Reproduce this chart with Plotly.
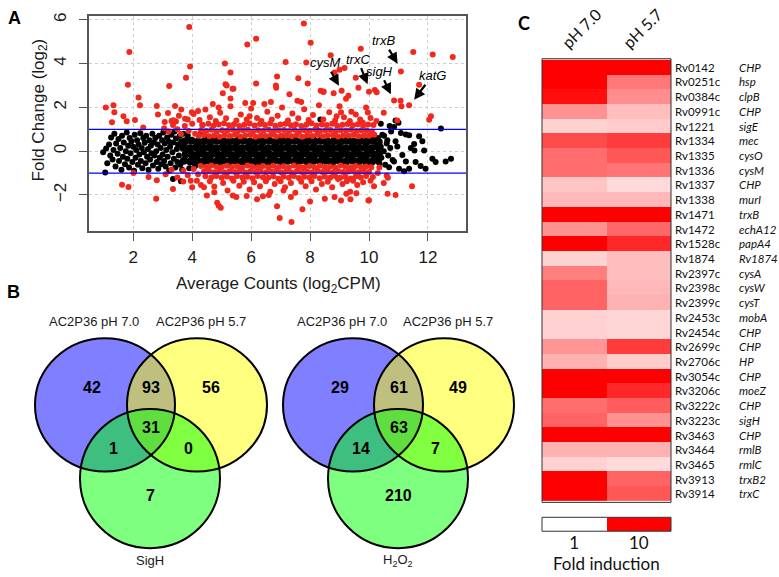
import numpy as np
import plotly.graph_objects as go

W, H = 779, 577


def px(x):
    return x / W


def py(y):
    return 1 - y / H


# ---- A: MA plot (average log2CPM, log2 fold change)
black_left = [
    (0.98, -0.05), (1.05, -0.98), (1.08, 0.12), (1.12, -0.55), (1.18, 0.30), (1.22, -0.20),
    (1.25, 0.62), (1.30, -0.38), (1.33, 0.05), (1.36, 0.80), (1.40, -0.70), (1.42, 0.35),
    (1.47, -0.12), (1.50, 0.55), (1.52, -0.45), (1.56, 0.15), (1.60, -0.85), (1.62, 0.70),
    (1.65, -0.25), (1.68, 0.40), (1.72, -0.60), (1.75, 0.00), (1.78, 0.85), (1.80, -0.35),
    (1.83, 0.25), (1.86, -0.75), (1.88, 0.60), (1.91, -0.10), (1.94, 0.45), (1.97, -0.50),
    (2.00, 0.20), (2.03, -0.90), (2.05, 0.75), (2.08, -0.30), (2.10, 0.05), (2.13, 0.50),
    (2.16, -0.62), (2.18, 0.30), (2.21, -0.15), (2.24, 0.82), (2.26, -0.45), (2.29, 0.15),
    (2.31, -0.78), (2.34, 0.60), (2.36, -0.05), (2.39, 0.38), (2.42, -0.55), (2.44, 0.70),
    (2.47, -0.25), (2.50, 0.10), (2.52, -0.85), (2.55, 0.50), (2.57, -0.38), (2.60, 0.25),
    (2.62, -0.10), (2.65, 0.80), (2.67, -0.65), (2.70, 0.40), (2.72, -0.20), (2.75, 0.60),
    (2.78, 0.00), (2.80, -0.50), (2.83, 0.30), (2.85, -0.80), (2.88, 0.70), (2.90, -0.30),
    (2.93, 0.15), (2.95, -0.60), (2.98, 0.50), (3.00, -0.15), (3.02, 0.85), (3.05, -0.45),
    (3.07, 0.35), (3.10, -0.70), (3.12, 0.05), (3.15, 0.62), (3.17, -0.25), (3.20, 0.45),
    (3.22, -0.90), (3.25, 0.20), (3.27, -0.55), (3.30, 0.75), (3.33, -0.05), (3.35, 0.40),
    (3.38, -0.35), (3.40, 0.90), (3.43, -0.75), (3.45, 0.58), (3.48, 0.10), (3.50, -0.50),
    (3.52, 0.30), (3.55, -0.20), (3.58, 0.70), (3.60, -0.62), (3.63, 0.45), (3.66, -0.85),
    (3.70, 0.80), (3.35, -1.27), (3.62, -1.38), (4.35, 1.20), (8.35, 1.45), (8.25, 0.95),
]

black_core = [
    (3.72, -0.44), (3.78, -0.14), (3.70, 0.16), (3.76, 0.45),
    (3.94, -0.47), (4.00, -0.16), (3.92, 0.13), (3.98, 0.47),
    (4.16, -0.43), (4.22, -0.13), (4.14, 0.17), (4.20, 0.43),
    (4.38, -0.46), (4.44, -0.17), (4.36, 0.14), (4.42, 0.46),
    (4.60, -0.44), (4.66, -0.14), (4.58, 0.16), (4.64, 0.44),
    (4.82, -0.47), (4.88, -0.16), (4.80, 0.13), (4.86, 0.47),
    (5.04, -0.43), (5.10, -0.13), (5.02, 0.17), (5.08, 0.43),
    (5.26, -0.46), (5.32, -0.17), (5.24, 0.14), (5.30, 0.46),
    (5.48, -0.44), (5.54, -0.14), (5.46, 0.16), (5.52, 0.44),
    (5.70, -0.47), (5.76, -0.16), (5.68, 0.13), (5.74, 0.47),
    (5.92, -0.43), (5.98, -0.13), (5.90, 0.17), (5.96, 0.43),
    (6.14, -0.46), (6.20, -0.17), (6.12, 0.14), (6.18, 0.46),
    (6.36, -0.44), (6.42, -0.14), (6.34, 0.16), (6.40, 0.44),
    (6.58, -0.47), (6.64, -0.16), (6.56, 0.13), (6.62, 0.47),
    (6.80, -0.43), (6.86, -0.13), (6.78, 0.17), (6.84, 0.43),
    (7.02, -0.46), (7.08, -0.17), (7.00, 0.14), (7.06, 0.46),
    (7.24, -0.44), (7.30, -0.14), (7.22, 0.16), (7.28, 0.44),
    (7.46, -0.47), (7.52, -0.16), (7.44, 0.13), (7.50, 0.47),
    (7.68, -0.43), (7.74, -0.13), (7.66, 0.17), (7.72, 0.43),
    (7.90, -0.46), (7.96, -0.17), (7.88, 0.14), (7.94, 0.46),
    (8.12, -0.44), (8.18, -0.14), (8.10, 0.16), (8.16, 0.44),
    (8.34, -0.47), (8.40, -0.16), (8.32, 0.13), (8.38, 0.47),
    (8.56, -0.43), (8.62, -0.13), (8.54, 0.17), (8.60, 0.43),
    (8.78, -0.46), (8.84, -0.17), (8.76, 0.14), (8.82, 0.46),
    (9.00, -0.44), (9.06, -0.14), (8.98, 0.16), (9.04, 0.44),
    (9.22, -0.47), (9.28, -0.16), (9.20, 0.13), (9.26, 0.47),
    (9.44, -0.43), (9.50, -0.13), (9.42, 0.17), (9.48, 0.43),
    (9.66, -0.46), (9.72, -0.17), (9.64, 0.14), (9.70, 0.46),
    (9.88, -0.44), (9.94, -0.14), (9.86, 0.16), (9.92, 0.44),
    (10.10, -0.47), (10.16, -0.16), (10.08, 0.13), (10.14, 0.47),
    (10.30, -0.40), (10.34, -0.10), (10.28, 0.20), (10.33, 0.42),
]

black_right = [
    (3.85, 0.72), (4.10, -0.68), (4.50, 0.62), (4.95, -0.62), (5.60, 0.60), (6.20, -0.60),
    (6.90, 0.62), (7.50, -0.62), (8.10, 0.60), (8.70, -0.60), (9.30, 0.62), (9.90, -0.60),
    (3.90, -0.78), (4.30, 0.80),
    (10.30, 0.60), (10.35, -0.55), (10.40, 0.20), (10.42, -0.30), (10.45, 0.75), (10.50, 0.00),
    (10.51, 0.70), (10.55, -0.62), (10.60, 0.35), (10.62, 0.50), (10.65, -0.20), (10.68, -0.74),
    (10.72, 0.15), (10.75, 0.90), (10.80, -0.40), (10.85, 1.10), (10.85, -0.47), (10.90, 0.45),
    (10.96, 0.21), (11.02, -0.80), (11.08, 0.83), (11.13, -0.17), (11.19, -0.92), (11.25, 0.76),
    (11.25, -0.47), (11.36, 0.73), (11.36, -0.80), (11.42, 0.15), (11.53, 0.33), (11.54, 0.03),
    (11.58, -0.50), (11.70, 0.68), (11.75, -0.68), (11.81, 0.45), (11.87, 0.03), (11.92, -0.80),
    (12.15, -0.35), (12.26, -0.50), (12.44, 1.03), (12.60, -0.47), (12.78, -0.35), (10.90, 1.40),
    (10.70, 1.15), (11.00, 1.30), (10.40, 1.25),
]

red_fringe_up = [
    (4.22, 0.70), (4.40, 0.74), (4.58, 0.68), (4.75, 0.72), (4.93, 0.66), (5.10, 0.73), (5.28, 0.69),
    (5.45, 0.75), (5.63, 0.67), (5.80, 0.71), (5.98, 0.74), (6.15, 0.66), (6.33, 0.72), (6.50, 0.69),
    (6.68, 0.75), (6.85, 0.67), (7.03, 0.71), (7.20, 0.73), (7.38, 0.68), (7.55, 0.74), (7.73, 0.66),
    (7.90, 0.72), (8.08, 0.69), (8.25, 0.75), (8.43, 0.68), (8.60, 0.71), (8.78, 0.73), (8.95, 0.67),
    (9.13, 0.72), (9.30, 0.70), (9.48, 0.74), (9.65, 0.68), (9.83, 0.72), (10.00, 0.70), (10.18, 0.75),
    (4.30, 0.95), (4.48, 0.92), (4.66, 0.98), (4.84, 0.90), (5.02, 0.96), (5.19, 0.93), (5.37, 0.99),
    (5.54, 0.91), (5.72, 0.95), (5.89, 0.98), (6.07, 0.90), (6.24, 0.96), (6.42, 0.93), (6.59, 0.99),
    (6.77, 0.91), (6.94, 0.95), (7.12, 0.97), (7.29, 0.92), (7.47, 0.98), (7.64, 0.90), (7.82, 0.96),
    (7.99, 0.93), (8.17, 0.99), (8.34, 0.92), (8.52, 0.95), (8.69, 0.97), (8.87, 0.91), (9.04, 0.96),
    (9.22, 0.94), (9.39, 0.98), (9.57, 0.92), (9.74, 0.96), (9.92, 0.94), (10.10, 0.90),
    (4.35, 1.20), (4.55, 1.25), (4.72, 1.16), (4.90, 1.22), (5.08, 1.27), (5.25, 1.18), (5.42, 1.23),
    (5.60, 1.15), (5.77, 1.21), (5.95, 1.26), (6.12, 1.17), (6.30, 1.24), (6.47, 1.19), (6.65, 1.28),
    (6.82, 1.16), (7.00, 1.22), (7.17, 1.25), (7.35, 1.18), (7.52, 1.23), (7.70, 1.15), (7.87, 1.21),
    (8.05, 1.27), (8.22, 1.17), (8.40, 1.22), (8.57, 1.19), (8.75, 1.25), (8.92, 1.16), (9.10, 1.21),
    (9.27, 1.24), (9.45, 1.18), (9.62, 1.23), (9.80, 1.17), (9.97, 1.22), (10.15, 1.20),
    (3.05, 1.05), (3.20, 0.90), (3.35, 1.20), (3.50, 1.00), (3.62, 0.78), (3.75, 1.15), (3.88, 0.92),
    (4.00, 1.25), (4.10, 0.80), (3.45, 1.35),
]

red_fringe_dn = [
    (4.30, -0.68), (4.48, -0.72), (4.65, -0.66), (4.83, -0.71), (5.00, -0.74), (5.18, -0.67),
    (5.35, -0.72), (5.53, -0.69), (5.70, -0.75), (5.88, -0.66), (6.05, -0.71), (6.23, -0.73),
    (6.40, -0.68), (6.58, -0.74), (6.75, -0.67), (6.93, -0.72), (7.10, -0.69), (7.28, -0.75),
    (7.45, -0.66), (7.63, -0.71), (7.80, -0.73), (7.98, -0.68), (8.15, -0.74), (8.33, -0.67),
    (8.50, -0.72), (8.68, -0.70), (8.85, -0.75), (9.03, -0.66), (9.20, -0.71), (9.38, -0.73),
    (9.55, -0.68), (9.73, -0.72), (9.90, -0.70), (10.08, -0.74),
    (4.40, -0.93), (4.57, -0.90), (4.75, -0.96), (4.92, -0.91), (5.10, -0.97), (5.27, -0.92),
    (5.45, -0.95), (5.62, -0.90), (5.80, -0.98), (5.97, -0.92), (6.15, -0.95), (6.32, -0.91),
    (6.50, -0.97), (6.67, -0.93), (6.85, -0.90), (7.02, -0.96), (7.20, -0.92), (7.37, -0.98),
    (7.55, -0.91), (7.72, -0.95), (7.90, -0.93), (8.07, -0.97), (8.25, -0.90), (8.42, -0.95),
    (8.60, -0.92), (8.77, -0.97), (8.95, -0.91), (9.12, -0.95), (9.30, -0.93), (9.47, -0.90),
    (9.65, -0.96), (9.82, -0.92), (10.00, -0.95),
    (4.45, -1.15), (4.65, -1.20), (4.82, -1.13), (5.00, -1.22), (5.18, -1.16), (5.35, -1.25),
    (5.52, -1.14), (5.70, -1.20), (5.88, -1.17), (6.05, -1.24), (6.22, -1.13), (6.40, -1.19),
    (6.58, -1.22), (6.75, -1.15), (6.92, -1.26), (7.10, -1.16), (7.28, -1.21), (7.45, -1.14),
    (7.62, -1.23), (7.80, -1.17), (7.98, -1.20), (8.15, -1.13), (8.33, -1.24), (8.50, -1.16),
    (8.68, -1.21), (8.85, -1.14), (9.02, -1.22), (9.20, -1.17), (9.38, -1.25), (9.55, -1.15),
    (9.72, -1.20), (9.90, -1.14),
]

red_scatter = [
    (3.30, 1.38), (3.55, 1.62), (3.85, 1.45), (4.05, 1.70), (4.25, 1.42), (4.45, 1.90), (4.60, 1.55),
    (4.80, 1.38), (4.95, 1.75), (5.15, 1.50), (5.30, 2.05), (5.50, 1.40), (5.65, 1.68), (5.85, 1.45),
    (6.00, 1.95), (6.20, 1.52), (6.35, 1.38), (6.55, 1.80), (6.70, 1.45), (6.90, 1.62), (7.05, 2.00),
    (7.25, 1.40), (7.40, 1.72), (7.60, 1.50), (7.80, 1.92), (7.95, 1.42), (8.10, 1.65), (8.30, 2.10),
    (8.45, 1.45), (8.65, 1.78), (8.85, 1.40), (9.00, 2.05), (9.15, 1.55), (9.35, 1.38), (9.55, 1.68),
    (9.70, 1.45), (9.90, 2.00), (10.05, 1.52), (10.25, 1.38), (5.80, 2.20), (6.45, 2.15), (7.70, 2.25),
    (4.70, 2.15), (8.90, 1.60), (5.95, 1.60),
    (3.10, -1.05), (3.30, -0.85), (3.50, -1.20), (3.70, -0.90), (3.85, -1.10), (4.05, -0.82),
    (4.20, -1.05), (3.95, -1.35), (4.30, -1.55), (4.60, -1.38), (4.75, -1.62), (5.05, -1.45),
    (5.20, -1.80), (5.40, -1.35), (5.60, -1.58), (5.75, -1.40), (5.95, -1.75), (6.10, -1.42),
    (6.30, -1.60), (6.50, -1.38), (6.65, -1.85), (6.80, -1.50), (7.00, -1.38), (7.15, -1.65),
    (7.35, -1.45), (7.50, -1.90), (7.70, -1.40), (7.85, -1.60), (8.05, -1.38), (8.20, -1.75),
    (8.40, -1.50), (8.60, -1.40), (8.75, -1.65), (9.10, -1.50), (9.25, -1.38), (9.60, -1.55),
    (9.80, -1.42), (10.05, -1.35), (10.30, -1.00), (10.35, -0.75), (5.50, -2.10), (6.20, -2.20),
    (8.00, -2.30), (5.85, -2.05),
]

red_outliers = [
    (1.07, 2.00), (1.33, 2.10), (1.36, 1.78), (1.28, 1.32), (1.67, 1.60), (1.78, 1.37), (1.87, 4.53),
    (1.82, 3.03), (2.18, 2.45), (2.23, 2.10), (2.06, 1.42), (2.34, 1.08), (2.80, 2.06), (2.84, 1.68),
    (3.18, 1.74), (3.22, 2.98), (3.42, 2.06), (3.07, 1.33), (3.36, 1.41), (3.76, 1.48), (3.99, 1.78),
    (4.20, 1.83), (3.90, 5.67), (3.93, 3.87), (3.79, 3.35), (3.63, 1.90), (5.87, 4.88), (6.17, 5.14),
    (7.79, 5.83), (8.02, 4.95), (5.11, 4.01), (5.30, 3.59), (5.17, 3.00), (5.40, 2.85), (7.17, 4.08),
    (7.87, 4.05), (6.88, 3.41), (6.17, 3.09), (6.84, 3.00), (7.60, 3.33), (7.92, 3.09), (8.46, 2.73),
    (8.83, 3.60), (8.70, 4.38), (9.17, 3.80), (9.72, 4.68), (9.00, 3.72), (9.55, 3.35), (9.07, 2.76),
    (8.80, 2.65), (9.64, 2.90), (10.00, 2.71), (10.20, 2.80), (10.26, 2.69), (9.30, 2.53), (9.22, 2.40),
    (10.85, 2.32), (11.07, 2.30), (11.10, 2.05), (11.36, 2.10), (11.50, 4.53), (12.16, 4.42),
    (12.84, 4.30), (11.08, 3.64), (11.70, 3.03), (12.04, 1.44), (12.10, 1.60), (10.50, 1.76),
    (10.96, 1.40), (9.96, 1.77), (9.79, 1.30), (9.05, 1.78), (9.40, 1.80), (5.04, 2.65), (5.30, 2.41),
    (7.30, 2.60), (6.85, 2.90), (8.36, 2.76), (8.45, 2.70), (6.07, 2.20), (6.67, 2.25), (7.57, 2.30),
    (5.13, 3.06), (5.37, 2.85), (4.90, 2.00),
    (1.62, -1.53), (1.84, -1.64), (2.01, -1.00), (2.52, -1.18), (2.80, -1.33), (2.78, -2.17),
    (4.85, -2.36), (4.97, -2.59), (4.90, -2.50), (4.75, -1.88), (5.38, -2.03), (6.40, -2.06),
    (6.60, -2.00), (6.88, -2.52), (6.97, -3.06), (7.37, -3.24), (7.74, -2.65), (7.35, -2.10),
    (7.10, -1.80), (8.83, -2.10), (9.05, -2.26), (8.50, -2.17), (9.23, -1.95), (9.37, -2.20),
    (9.98, -2.26), (10.90, -2.00), (10.17, -1.60), (10.50, -1.45), (10.63, -1.95), (8.95, -1.27),
    (9.46, -1.35), (10.60, -1.11), (3.35, -1.73), (3.70, -1.39), (4.16, -1.35), (4.50, -2.03),
    (4.40, -1.65), (4.00, -1.65), (11.46, -1.60), (10.00, -2.24), (9.36, -1.86), (9.57, -1.92),
    (10.64, -1.21), (10.13, -1.18),
]

gene_labels = ["cysM", "trxC", "sigH", "trxB", "katG"]
gene_tip_x = [8.98, 9.95, 10.74, 10.97, 11.53]
gene_tip_y = [2.99, 3.06, 2.60, 4.00, 2.35]

# ---- B: Venn counts (blue only, blue&yellow, yellow only, blue&green, all, yellow&green, green only)
venn_sigh = [42, 93, 56, 1, 31, 0, 7]
venn_h2o2 = [29, 61, 49, 14, 63, 7, 210]

# ---- C: fold induction heatmap
rv_ids = ["Rv0142", "Rv0251c", "Rv0384c", "Rv0991c", "Rv1221", "Rv1334", "Rv1335", "Rv1336",
          "Rv1337", "Rv1338", "Rv1471", "Rv1472", "Rv1528c", "Rv1874", "Rv2397c", "Rv2398c",
          "Rv2399c", "Rv2453c", "Rv2454c", "Rv2699c", "Rv2706c", "Rv3054c", "Rv3206c", "Rv3222c",
          "Rv3223c", "Rv3463", "Rv3464", "Rv3465", "Rv3913", "Rv3914"]
gene_names = ["CHP", "hsp", "clpB", "CHP", "sigE", "mec", "cysO", "cysM", "CHP", "murI", "trxB",
              "echA12", "papA4", "Rv1874", "cysA", "cysW", "cysT", "mobA", "CHP", "CHP", "HP", "CHP",
              "moeZ", "CHP", "sigH", "CHP", "rmlB", "rmlC", "trxB2", "trxC"]
fold_ph70 = [10, 10, 9, 2.7, 1.5, 5.1, 3.7, 3.7, 1.7, 1.9, 10, 2.7, 10, 1.5, 3.2, 4.1, 4.1, 1.5, 1.5,
             2.6, 2.0, 10, 10, 3.7, 4.1, 10, 2.0, 1.5, 10, 10]
fold_ph57 = [10, 3.4, 2.8, 1.8, 1.6, 5.8, 4.6, 3.5, 1.4, 1.9, 10, 3.9, 7.0, 1.8, 1.8, 1.9, 2.0, 1.45,
             1.45, 5.8, 1.6, 10, 7.0, 4.3, 2.7, 10, 2.0, 1.4, 4.1, 4.6]
conditions = ["pH 7.0", "pH 5.7"]
legend_folds = [1, 10]

RED = "#f0281e"
SANS = "Liberation Sans, Arial, sans-serif"
CAL = "Lato, Liberation Sans, sans-serif"

fig = go.Figure()


def add_points(pts, color, size):
    fig.add_trace(go.Scatter(
        x=[p[0] for p in pts], y=[p[1] for p in pts],
        mode="markers",
        marker=dict(color=color, size=size, line=dict(width=0)),
        showlegend=False, hoverinfo="skip",
        xaxis="x", yaxis="y",
    ))


add_points(black_core, "black", 8)
add_points(black_left, "black", 6)
add_points(black_right, "black", 6)
add_points(red_fringe_up, RED, 6)
add_points(red_fringe_dn, RED, 6)
add_points(red_scatter, RED, 6)
add_points(red_outliers, RED, 6)

# heatmap
z = [[np.log10(a), np.log10(b)] for a, b in zip(fold_ph70, fold_ph57)]
cscale = [[0, "#ffffff"], [1, "#ff0000"]]
fig.add_trace(go.Heatmap(
    z=z, x=conditions, y=rv_ids, colorscale=cscale, zmin=0, zmax=1,
    showscale=False, hoverinfo="skip", xaxis="x2", yaxis="y2",
))
fig.add_trace(go.Heatmap(
    z=[[np.log10(v) for v in legend_folds]], x=[str(v) for v in legend_folds], y=["fold"],
    colorscale=cscale, zmin=0, zmax=1, showscale=False, hoverinfo="skip",
    xaxis="x3", yaxis="y3",
))

shapes = []
# threshold lines
for yv in (1, -1):
    shapes.append(dict(type="line", xref="x domain", yref="y", x0=0, x1=1, y0=yv, y1=yv,
                       line=dict(color="#0000ff", width=1.2)))
# borders of heatmap and legend
for ax in ("2", "3"):
    shapes.append(dict(type="rect", xref=f"x{ax} domain", yref=f"y{ax} domain", x0=0, x1=1, y0=0, y1=1,
                       line=dict(color="#333", width=1)))


def note(x, y, text, size, family=SANS, color="#1a1a1a", **kw):
    d = dict(x=px(x), y=py(y), xref="paper", yref="paper", text=text, showarrow=False,
             xanchor="center", yanchor="middle", font=dict(family=family, size=size, color=color))
    d.update(kw)
    return d


# Venn circles (pixel boxes)
venn_sets = [
    dict(cx=(105, 197, 150), counts=venn_sigh, third="SigH"),
    dict(cx=(353, 444, 398), counts=venn_h2o2, third="H<sub>2</sub>O<sub>2</sub>"),
]
fills = ["#0000ff", "#ffff00", "#00ff00"]
annotations = []
for v in venn_sets:
    bx, yx, gx = v["cx"]
    boxes = [(bx - 70, bx + 70, 337, 471), (yx - 70, yx + 70, 337, 471), (gx - 70, gx + 70, 408, 548)]
    for (x0, x1, y0, y1), c in zip(boxes, fills):
        shapes.append(dict(type="circle", xref="paper", yref="paper", x0=px(x0), x1=px(x1),
                           y0=py(y1), y1=py(y0), fillcolor=c, opacity=0.5, line=dict(width=0)))
    for (x0, x1, y0, y1) in boxes:
        shapes.append(dict(type="circle", xref="paper", yref="paper", x0=px(x0), x1=px(x1),
                           y0=py(y1), y1=py(y0), line=dict(color="black", width=2)))
    mid = (bx + yx) / 2
    spots = [(bx - 13, 387), (mid, 387), (yx + 14, 387), (bx + 8, 448), (mid, 427),
             (yx - 9, 448), (gx, 495)]
    for (sx, sy), n in zip(spots, v["counts"]):
        annotations.append(note(sx, sy, f"<b>{n}</b>", 16, color="black"))
    for sx, sy, t in [(bx - 11, 320, "AC2P36 pH 7.0"), (yx + 4, 320, "AC2P36 pH 5.7"),
                      (gx, 560, v["third"])]:
        annotations.append(note(sx, sy, t, 13))

# gene callouts on the MA plot
offsets = [(-13, -23), (-10, -25), (-11, -23), (-14, -23), (18, -24)]
for g, gx_, gy_, (ax_, ay_) in zip(gene_labels, gene_tip_x, gene_tip_y, offsets):
    annotations.append(dict(x=gx_, y=gy_, xref="x", yref="y", text=f"<i>{g}</i>", showarrow=True,
                            ax=ax_, ay=ay_, arrowhead=2, arrowsize=1.0, arrowwidth=2.2,
                            arrowcolor="black", font=dict(family=SANS, size=13, color="black")))

# axis titles of A
annotations.append(note(278, 283, "Average Counts (log<sub>2</sub>CPM)", 17))
annotations.append(note(40, 108, "Fold Change (log<sub>2</sub>)", 17, textangle=-90))

# heatmap labels
for rv, gn in zip(rv_ids, gene_names):
    annotations.append(dict(x=px(673), y=rv, xref="paper", yref="y2", text=rv, xanchor="left",
                            yanchor="middle", showarrow=False,
                            font=dict(family=CAL, size=11.5, color="#111")))
    annotations.append(dict(x=px(737), y=rv, xref="paper", yref="y2", text=f"<i>{gn}</i>",
                            xanchor="left", yanchor="middle", showarrow=False,
                            font=dict(family=CAL, size=11.5, color="#111")))
for cx_, cond in zip((581, 642), conditions):
    annotations.append(note(cx_, 26, cond, 16, family=CAL, color="#111", textangle=-45))
annotations.append(note(606, 563, "Fold induction", 17, family=CAL, color="#111"))

# panel letters
for lx, ly, t, fam in [(14, 15, "A", SANS), (13, 291, "B", SANS), (524, 20, "C", CAL)]:
    annotations.append(note(lx, ly, f"<b>{t}</b>", 18, family=fam, color="black"))

axis_common = dict(showline=True, mirror=True, linecolor="#555", linewidth=1.5, ticks="outside",
                   ticklen=8, tickcolor="#555", tickwidth=1.2, showgrid=True, gridcolor="#cfcfcf",
                   griddash="dot", gridwidth=1, zeroline=False,
                   tickfont=dict(family=SANS, size=17, color="#1a1a1a"))
hidden = dict(showticklabels=False, ticks="", showgrid=False, zeroline=False, showline=False)

fig.update_layout(
    width=W, height=H, margin=dict(l=0, r=0, t=0, b=0),
    paper_bgcolor="white", plot_bgcolor="white",
    xaxis=dict(domain=[px(89), px(466)], range=[0.5, 13.29], tick0=2, dtick=2, anchor="y",
               ticklabelstandoff=2, **axis_common),
    yaxis=dict(domain=[py(229), py(13)], range=[-3.64, 6.18], tick0=0, dtick=2, anchor="x",
               tickangle=-90, ticklabelstandoff=6, **axis_common),
    xaxis2=dict(domain=[px(542), px(671)], anchor="y2", **hidden),
    yaxis2=dict(domain=[py(502), py(56)], anchor="x2", autorange="reversed", **hidden),
    xaxis3=dict(domain=[px(542), px(671)], anchor="y3", showticklabels=True, ticks="", showgrid=False,
                zeroline=False, showline=False, ticklabelstandoff=0,
                tickfont=dict(family=CAL, size=17, color="#111")),
    yaxis3=dict(domain=[py(531), py(517)], anchor="x3", **hidden),
    shapes=shapes,
    annotations=annotations,
)

fig.write_html("out.html", config={"displayModeBar": False},
               post_script="document.body.style.margin='0';")
